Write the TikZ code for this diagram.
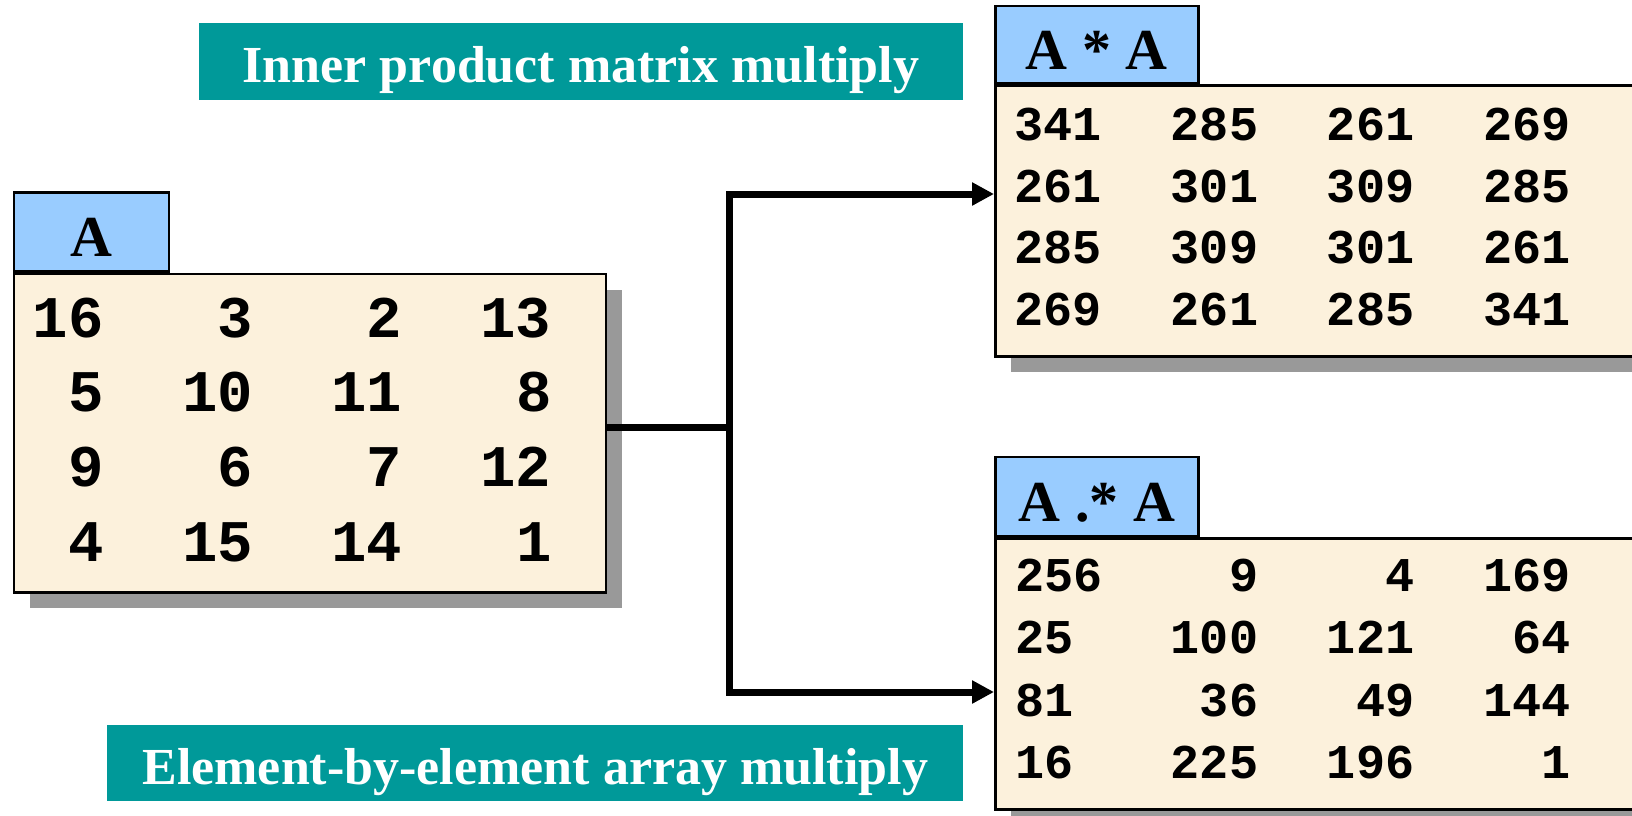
\documentclass[tikz,border=0pt]{standalone}
\usepackage{fontspec}
\setmainfont{Liberation Serif}
\newfontfamily\matfont{Liberation Mono}
\usetikzlibrary{arrows.meta,shadows}

\definecolor{bannerteal}{HTML}{009999}
\definecolor{tabblue}{HTML}{99CCFF}
\definecolor{paper}{HTML}{FCF1DC}
\definecolor{shade}{HTML}{999999}

\begin{document}
\begin{tikzpicture}[x=1pt,y=-1pt,
  matbody/.style={draw=black, line width=2.5pt, fill=paper, inner sep=0pt,
    anchor=north west,
    drop shadow={shadow xshift=16pt, shadow yshift=-16pt, fill=shade, opacity=1}},
  tabbox/.style={draw=black, line width=2.5pt, fill=tabblue, inner sep=0pt,
    anchor=south west, minimum width=203pt, minimum height=77pt,
    font=\bfseries\fontsize{58}{60}\selectfont, text height=50pt, text depth=0pt},
  banner/.style={fill=bannerteal, text=white, inner sep=0pt, anchor=north west,
    font=\bfseries\fontsize{52}{54}\selectfont, text height=42pt, text depth=0pt},
  bignum/.style={font=\matfont\bfseries\fontsize{59}{60}\selectfont,
    inner sep=0pt, text height=37.5pt, text depth=0pt, anchor=east},
  smallnum/.style={font=\matfont\bfseries\fontsize{48.5}{50}\selectfont,
    inner sep=0pt, text height=31pt, text depth=0pt},
  conn/.style={line width=7pt, line join=miter},
  tip/.style={-{Triangle[length=22pt,width=22pt]}}
]
\clip (0,0) rectangle (1632,816);
\fill[white] (0,0) rectangle (1632,816);

% captions
\node[banner, minimum width=764pt, minimum height=77pt] (capinner) at (198.8,22.9)
  {Inner product matrix multiply};
\node[banner, minimum width=856pt, minimum height=76pt] (caparray) at (107,725)
  {Element-by-element array multiply};

% matrix A
\node[matbody, minimum width=592pt, minimum height=318.5pt] (Abody) at (12.5,272.7) {};
\node[tabbox, minimum width=155pt, minimum height=79pt] (Atab) at (Abody.north west) {A};

% A * A
\node[matbody, minimum width=670pt, minimum height=270.7pt] (Pbody) at (994,84.3) {};
\node[tabbox] (Ptab) at (Pbody.north west) {A * A};

% A .* A
\node[matbody, minimum width=670pt, minimum height=271pt] (Ebody) at (994,537) {};
\node[tabbox, minimum height=79pt] (Etab) at (Ebody.north west) {A .* A};

% entries of A
\foreach \row [count=\i] in {{16,3,2,13},{5,10,11,8},{9,6,7,12},{4,15,14,1}} {
  \foreach \v [count=\j] in \row {
    \node[bignum] (a-\i-\j) at ({104+149.2*(\j-1)}, {318.5+74.6*(\i-1)}) {\v};
  }
}

% entries of A * A
\foreach \row [count=\i] in {{341,285,261,269},{261,301,309,285},{285,309,301,261},{269,261,285,341}} {
  \foreach \v [count=\j] in \row {
    \node[smallnum, anchor=east] (p-\i-\j) at ({1102.2+156.1*(\j-1)}, {125+61.7*(\i-1)}) {\v};
  }
}

% entries of A .* A
\foreach \row [count=\i] in {{256,9,4,169},{25,100,121,64},{81,36,49,144},{16,225,196,1}} {
  \foreach \v [count=\j] in \row {
    \ifnum\j=1
      \node[smallnum, anchor=west] (e-\i-\j) at (1014.8, {575.6+62.5*(\i-1)}) {\v};
    \else
      \node[smallnum, anchor=east] (e-\i-\j) at ({1102.2+156.1*(\j-1)}, {575.6+62.5*(\i-1)}) {\v};
    \fi
  }
}

% connectors
\coordinate (split) at (729,427);
\coordinate (upper) at (729,194);
\coordinate (lower) at (729,692);
\draw[conn] (Abody.east |- split) -- (split);
\draw[conn, tip] (lower) -- (upper) -- (Pbody.west |- upper);
\draw[conn, tip] (upper) -- (lower) -- (Ebody.west |- lower);
\end{tikzpicture}
\end{document}
